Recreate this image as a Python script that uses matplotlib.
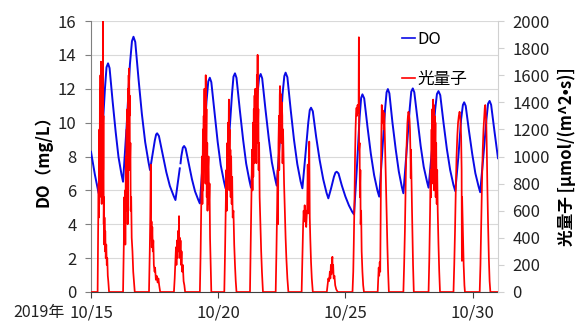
import numpy as np
import matplotlib
matplotlib.use("Agg")
import matplotlib.pyplot as plt
from matplotlib.lines import Line2D

plt.rcParams['font.family'] = ['Noto Sans CJK JP', 'DejaVu Sans']

# ---- data (x = days since 2019-10-15 00:00) ----
x_ticks = [0, 5, 10, 15]
x_tick_labels = ["10/15", "10/20", "10/25", "10/30"]
year_label = "2019年"

do_time = [0.00, 0.15, 0.30, 0.42, 0.55, 0.61, 0.67, 0.73, 0.85, 0.97, 1.08, 1.20,
           1.26, 1.40, 1.53, 1.61, 1.67, 1.74, 1.87, 2.00, 2.13, 2.26,
           2.32, 2.41, 2.51, 2.56, 2.60, 2.67, 2.82, 2.96, 3.10, 3.25,
           3.32, 3.43, 3.49, 3.505, 3.52, 3.55, 3.61, 3.66, 3.72, 3.85, 3.97, 4.09, 4.22,
           4.28, 4.41, 4.54, 4.61, 4.67, 4.73, 4.86, 4.98, 5.10, 5.23,
           5.29, 5.41, 5.54, 5.60, 5.66, 5.72, 5.85, 5.98, 6.10, 6.23,
           6.29, 6.42, 6.54, 6.61, 6.67, 6.73, 6.86, 6.99, 7.11, 7.24,
           7.30, 7.42, 7.53, 7.60, 7.65, 7.72, 7.85, 7.98, 8.11, 8.24,
           8.31, 8.42, 8.54, 8.60, 8.65, 8.72, 8.85, 8.99, 9.13, 9.26,
           9.33, 9.44, 9.55, 9.61, 9.66, 9.73, 9.86, 10.00, 10.14, 10.27,
           10.34, 10.45, 10.56, 10.62, 10.67, 10.74, 10.87, 11.00, 11.13, 11.26,
           11.33, 11.44, 11.56, 11.62, 11.67, 11.73, 11.85, 11.98, 12.10, 12.22,
           12.28, 12.40, 12.53, 12.59, 12.65, 12.71, 12.84, 12.96, 13.08, 13.21,
           13.27, 13.40, 13.53, 13.60, 13.66, 13.73, 13.86, 13.99, 14.12, 14.25,
           14.32, 14.44, 14.55, 14.62, 14.67, 14.73, 14.86, 14.99, 15.11, 15.24,
           15.30, 15.42, 15.55, 15.61, 15.67, 15.73, 15.86, 16.00]
do_value = [8.28, 6.95, 5.83, 8.74, 12.04, 13.27, 13.50, 13.22, 11.26, 9.45, 7.98, 6.93,
            6.51, 9.76, 13.44, 14.81, 15.07, 14.76, 12.55, 10.51, 8.85, 7.67,
            7.20, 8.02, 8.96, 9.30, 9.37, 9.21, 8.11, 7.08, 6.26, 5.67,
            5.43, 6.64, 7.30, None, 7.60, 8.01, 8.52, 8.62, 8.48, 7.54, 6.65, 5.94, 5.43,
            5.23, 8.05, 11.24, 12.43, 12.65, 12.39, 10.56, 8.86, 7.49, 6.51,
            6.12, 8.70, 11.62, 12.71, 12.91, 12.64, 10.75, 8.99, 7.58, 6.56,
            6.16, 8.71, 11.60, 12.67, 12.87, 12.61, 10.76, 9.05, 7.66, 6.68,
            6.28, 8.81, 11.68, 12.75, 12.95, 12.68, 10.76, 8.99, 7.55, 6.53,
            6.12, 7.93, 9.98, 10.74, 10.88, 10.67, 9.17, 7.78, 6.65, 5.85,
            5.53, 6.13, 6.80, 7.05, 7.10, 7.00, 6.29, 5.64, 5.11, 4.73,
            4.58, 7.27, 10.32, 11.46, 11.67, 11.43, 9.74, 8.17, 6.90, 5.99,
            5.63, 8.04, 10.77, 11.79, 11.98, 11.73, 10.01, 8.41, 7.12, 6.20,
            5.83, 8.18, 10.84, 11.83, 12.02, 11.79, 10.14, 8.62, 7.39, 6.51,
            6.16, 8.33, 10.78, 11.69, 11.86, 11.62, 9.97, 8.44, 7.20, 6.31,
            5.96, 7.95, 10.20, 11.04, 11.20, 10.99, 9.50, 8.12, 7.01, 6.21,
            5.89, 7.94, 10.26, 11.12, 11.28, 11.05, 9.50, 7.90]

light_time = [0.00,
    0.26, 0.28, 0.30, 0.31, 0.33, 0.34, 0.35, 0.36, 0.37, 0.38, 0.39, 0.40, 0.41, 0.42, 0.43, 0.44,
    0.45, 0.46, 0.47, 0.48, 0.49, 0.50, 0.51, 0.52, 0.53, 0.55, 0.56, 0.58, 0.60, 0.62, 0.64, 0.66, 0.68, 0.71,
    1.26, 1.29, 1.31, 1.32, 1.34, 1.35, 1.37, 1.38, 1.40, 1.41, 1.43, 1.44, 1.46, 1.47, 1.48, 1.49,
    1.50, 1.51, 1.52, 1.53, 1.55, 1.56, 1.58, 1.60, 1.63, 1.66, 1.70, 1.72,
    2.28, 2.31, 2.33, 2.35, 2.36, 2.38, 2.39, 2.41, 2.43, 2.45, 2.47, 2.50, 2.52, 2.55, 2.58, 2.62, 2.65, 2.68, 2.72,
    3.26, 3.29, 3.32, 3.34, 3.36, 3.38, 3.40, 3.42, 3.44, 3.46, 3.47, 3.49, 3.50, 3.52, 3.54, 3.56, 3.58,
    3.61, 3.64, 3.67, 3.70,
    4.28, 4.31, 4.34, 4.36, 4.38, 4.40, 4.41, 4.43, 4.44, 4.46, 4.47, 4.49, 4.50, 4.51, 4.52, 4.54,
    4.55, 4.57, 4.58, 4.60, 4.62, 4.64, 4.66, 4.68, 4.71, 4.73,
    5.24, 5.27, 5.30, 5.32, 5.34, 5.36, 5.37, 5.39, 5.40, 5.42, 5.43, 5.45, 5.46, 5.48, 5.49, 5.51,
    5.53, 5.55, 5.57, 5.60, 5.63, 5.66, 5.69, 5.72,
    6.25, 6.28, 6.31, 6.33, 6.35, 6.37, 6.38, 6.40, 6.41, 6.43, 6.44, 6.46, 6.47, 6.49, 6.50, 6.52,
    6.53, 6.55, 6.56, 6.58, 6.59, 6.61, 6.63, 6.66, 6.69, 6.72, 6.76,
    7.26, 7.29, 7.32, 7.34, 7.35, 7.37, 7.39, 7.40, 7.42, 7.43, 7.45, 7.47, 7.48, 7.50, 7.52, 7.53,
    7.55, 7.57, 7.59, 7.62, 7.65, 7.68, 7.72, 7.76,
    8.28, 8.31, 8.34, 8.36, 8.38, 8.40, 8.42, 8.44, 8.46, 8.48, 8.50, 8.52, 8.54, 8.56, 8.58, 8.60,
    8.62, 8.65, 8.68, 8.72,
    9.27, 9.30, 9.33, 9.36, 9.39, 9.41, 9.43, 9.45, 9.47, 9.49, 9.50, 9.52, 9.54, 9.57, 9.60, 9.64, 9.70,
    10.28, 10.31, 10.33, 10.36, 10.38, 10.40, 10.42, 10.44, 10.46, 10.48, 10.50, 10.52, 10.53, 10.54,
    10.56, 10.57, 10.59, 10.60, 10.62, 10.64, 10.67, 10.70, 10.73,
    11.27, 11.29, 11.31, 11.33, 11.35, 11.37, 11.39, 11.41, 11.43, 11.45, 11.47, 11.49, 11.51, 11.53,
    11.55, 11.57, 11.59, 11.62, 11.65, 11.68, 11.71,
    12.28, 12.31, 12.34, 12.36, 12.38, 12.40, 12.42, 12.44, 12.46, 12.48, 12.50, 12.52, 12.54, 12.56,
    12.57, 12.58, 12.60, 12.62, 12.64, 12.66, 12.69,
    13.27, 13.30, 13.33, 13.35, 13.37, 13.39, 13.40, 13.42, 13.43, 13.45, 13.46, 13.48, 13.49, 13.51,
    13.52, 13.54, 13.55, 13.57, 13.59, 13.61, 13.63, 13.66, 13.69, 13.72,
    14.25, 14.28, 14.31, 14.34, 14.37, 14.40, 14.43, 14.46, 14.49, 14.52, 14.55, 14.57, 14.58, 14.59,
    14.62, 14.65, 14.68, 14.70,
    15.28, 15.31, 15.34, 15.37, 15.40, 15.43, 15.46, 15.48, 15.50, 15.52, 15.54, 15.56, 15.58, 15.61,
    15.64, 15.67, 15.70,
    16.00]
light_value = [0,
    0, 450, 800, 550, 1200, 700, 1500, 900, 1600, 1000, 1700, 800, 1550, 650, 1400, 900,
    1650, 1100, 2050, 900, 1300, 500, 700, 350, 550, 300, 450, 250, 350, 200, 250, 120, 80, 0,
    0, 350, 700, 400, 750, 350, 1000, 600, 1200, 700, 1350, 500, 1500, 1000, 1600, 1200,
    1650, 1300, 1450, 900, 1100, 600, 700, 400, 300, 150, 50, 0,
    0, 300, 550, 940, 400, 520, 330, 480, 300, 380, 200, 150, 180, 90, 120, 70, 100, 50, 0,
    0, 100, 250, 330, 200, 380, 250, 450, 300, 560, 320, 400, 250, 380, 200, 300, 150,
    200, 80, 50, 0,
    0, 300, 700, 1000, 650, 1200, 750, 1300, 900, 1500, 1000, 1400, 800, 1600, 1050, 1350,
    700, 1100, 600, 900, 1000, 650, 800, 400, 150, 0,
    0, 300, 650, 900, 600, 1100, 750, 1250, 850, 1420, 900, 1200, 750, 1050, 700, 1000,
    650, 850, 550, 600, 350, 200, 80, 0,
    0, 350, 750, 1050, 750, 1250, 850, 1350, 950, 1450, 1000, 1500, 1100, 1400, 950, 1600,
    1100, 1750, 1200, 1350, 900, 1100, 700, 500, 300, 150, 0,
    0, 300, 650, 900, 500, 1100, 1300, 900, 1450, 1520, 1350, 1460, 1100, 1400, 1300, 950,
    1200, 1000, 800, 600, 400, 250, 100, 0,
    0, 250, 500, 600, 520, 640, 540, 600, 480, 560, 620, 940, 580, 640, 1110, 550,
    400, 220, 100, 0,
    0, 50, 100, 80, 150, 100, 200, 130, 220, 260, 150, 200, 100, 120, 50, 20, 0,
    0, 150, 350, 700, 1000, 1200, 1320, 1360, 1300, 1380, 1320, 1350, 1880, 1050,
    1100, 700, 900, 500, 600, 300, 150, 50, 0,
    0, 100, 180, 120, 220, 150, 600, 1100, 1380, 1250, 1340, 1300, 1200, 1320,
    1150, 1000, 850, 600, 350, 150, 0,
    0, 200, 450, 700, 900, 1050, 1150, 1250, 1300, 1330, 1310, 1280, 1200, 1000,
    840, 1050, 800, 600, 400, 200, 0,
    0, 250, 600, 900, 700, 1200, 800, 1350, 900, 1420, 1000, 1380, 750, 1300,
    850, 1250, 700, 1100, 650, 900, 600, 350, 150, 0,
    0, 200, 450, 750, 1000, 1150, 1250, 1300, 1330, 1280, 1150, 900, 230, 700,
    450, 200, 50, 0,
    0, 200, 500, 800, 1050, 1200, 1300, 1360, 1380, 1300, 1250, 1050, 800, 500,
    250, 80, 0,
    0]

do_label = "DO"
light_label = "光量子"
left_ylabel = "DO（mg/L）"
right_ylabel = "光量子 [µmol/(m^2•s)]"

# ---- figure ----
W, H = 582, 322
fig = plt.figure(figsize=(W / 100, H / 100), dpi=100)
ax = fig.add_axes([91 / W, 1 - 292 / H, (498 - 91) / W, (292 - 21) / H])
ax2 = ax.twinx()

do_arr = np.array([np.nan if v is None else v for v in do_value], dtype=float)
ax.plot(do_time, do_arr, color='#0a0ae6', lw=1.4, zorder=3)
ax2.plot(light_time, light_value, color='#ff0000', lw=1.25, zorder=3)

ax.set_xlim(0, 16)
ax.set_ylim(0, 16)
ax2.set_ylim(0, 2000)
ax.set_yticks(np.arange(0, 17, 2))
ax2.set_yticks(np.arange(0, 2001, 200))
ax.set_xticks(x_ticks)
ax.set_xticklabels(x_tick_labels)

ax.grid(axis='y', color='#d9d9d9', lw=0.8)
ax.set_axisbelow(True)

fs = 12
ax.spines['top'].set_visible(False)
ax2.spines['top'].set_visible(False)
ax.spines['right'].set_visible(False)
ax2.spines['left'].set_visible(False)
ax2.spines['bottom'].set_visible(False)
ax.spines['left'].set_color('#7f7f7f')
ax.spines['bottom'].set_color('#404040')
ax2.spines['right'].set_color('#d0d0d0')

ax.tick_params(axis='y', direction='out', length=4.5, color='#7f7f7f', pad=6, labelsize=fs, labelcolor='#222222')
ax.tick_params(axis='x', direction='out', length=4, color='#404040', pad=5, labelsize=fs, labelcolor='#222222')
ax2.tick_params(axis='y', direction='out', length=4.5, color='#d0d0d0', pad=6, labelsize=fs, labelcolor='#222222')

ax.set_ylabel(left_ylabel, fontsize=fs, fontweight='bold', labelpad=4)
ax2.set_ylabel(right_ylabel, fontsize=fs, fontweight='bold', labelpad=5)

ax.annotate(year_label, xy=(0, 0), xycoords='axes fraction', xytext=(-78, -21),
            textcoords='offset pixels', ha='left', va='center', fontsize=fs - 0.5, color='#222222')

handles = [Line2D([], [], color='#0a0ae6', lw=1.2), Line2D([], [], color='#ff0000', lw=1.2)]
leg = ax2.legend(handles, [do_label, light_label], loc='upper left',
                 bbox_to_anchor=(402 / W, 1 - 31 / H), bbox_transform=fig.transFigure,
                 frameon=False, fontsize=fs, handlelength=0.8, handletextpad=0.1,
                 labelspacing=1.35, borderpad=0, borderaxespad=0)

fig.savefig("out.png", dpi=100)
